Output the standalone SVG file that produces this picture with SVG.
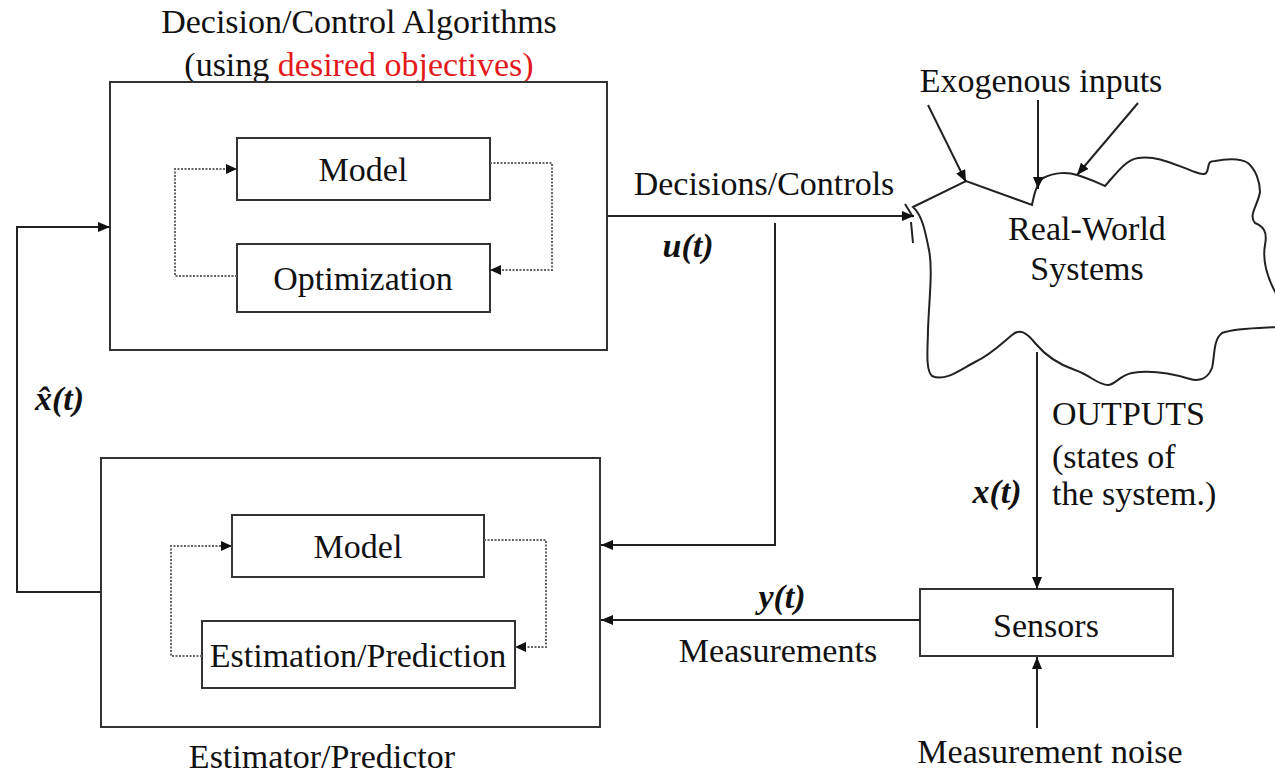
<svg xmlns="http://www.w3.org/2000/svg" width="1275" height="776" viewBox="0 0 1275 776">
<defs>
<style>
text{font-family:"Liberation Serif","Times New Roman",serif;font-size:34px;fill:#111}
.c{text-anchor:middle}
.v{font-style:italic;font-weight:bold}
.box{fill:none;stroke:#333;stroke-width:2}
.ln{fill:none;stroke:#222;stroke-width:2}
.dot{fill:none;stroke:#666;stroke-width:2;stroke-dasharray:2 1.5}
.red{fill:#e3191c}
</style>
<marker id="ah" markerUnits="userSpaceOnUse" markerWidth="12" markerHeight="10" refX="12" refY="5" orient="auto">
<path d="M0,0 L12,5 L0,10 z" fill="#111"/>
</marker>
<marker id="ahs" markerUnits="userSpaceOnUse" markerWidth="11" markerHeight="10" refX="11" refY="5" orient="auto">
<path d="M0,0 L11,5 L0,10 z" fill="#111"/>
</marker>
</defs>
<rect width="1275" height="776" fill="#fff"/>

<g id="decision-control">
<text class="c" x="359" y="33">Decision/Control Algorithms</text>
<text class="c" x="359" y="76">(using <tspan class="red">desired objectives)</tspan></text>
<rect class="box" x="110" y="82" width="497" height="268"/>
</g>
<g id="model-top">
<rect class="box" x="237" y="138" width="253" height="62"/>
<text class="c" x="363" y="181">Model</text>
</g>
<g id="optimization">
<rect class="box" x="237" y="244" width="253" height="68"/>
<text class="c" x="363" y="290">Optimization</text>
</g>

<g id="estimator">
<rect class="box" x="101" y="458" width="499" height="269"/>
<text class="c" x="322" y="768">Estimator/Predictor</text>
</g>
<g id="model-bottom">
<rect class="box" x="232" y="515" width="252" height="62"/>
<text class="c" x="358" y="558">Model</text>
</g>
<g id="estimation-prediction">
<rect class="box" x="202" y="621" width="313" height="67"/>
<text class="c" x="358" y="667">Estimation/Prediction</text>
</g>

<g id="real-world">
<path class="ln" d="M913,207 L966,181 L1032,205 C1034,195 1036,185 1043,178 C1055,172 1068,172 1077,175 C1088,178 1098,183 1105,186 C1115,175 1125,160 1138,158 C1158,155 1175,165 1195,172 C1205,176 1207,174 1208,168 C1209,162 1210,161 1215,161 C1225,159 1240,158 1248,163 C1256,170 1260,182 1260,192 C1258,205 1248,215 1255,223 C1262,226 1268,230 1265,245 C1262,262 1268,280 1278,297 L1278,327 C1258,328 1235,328 1222,333 C1213,340 1215,355 1212,368 C1208,378 1200,382 1190,379 C1170,373 1150,370 1132,373 C1120,375 1115,385 1108,385 C1098,385 1090,375 1075,370 C1060,365 1045,355 1035,343 C1027,333 1020,328 1012,335 C1000,345 990,355 975,362 C960,370 945,382 932,376 C925,370 928,345 928,330 C929,300 933,270 929,250 C925,230 922,215 913,207 Z"/>
<path class="ln" d="M905,204 L913,217 M911,222 L913,243"/>
<text class="c" x="1087" y="240">Real-World</text>
<text class="c" x="1087" y="280">Systems</text>
<text class="c" x="1041" y="92">Exogenous inputs</text>
</g>

<g id="sensors">
<rect class="box" x="920" y="589" width="253" height="67"/>
<text class="c" x="1046" y="637">Sensors</text>
<text class="c" x="1050" y="763">Measurement noise</text>
</g>

<g id="connectors">
<path class="dot" d="M237,276 L175,276 L175,169 L237,169" marker-end="url(#ahs)"/>
<path class="dot" d="M490,163 L552,163 L552,270 L490,270" marker-end="url(#ahs)"/>
<path class="dot" d="M202,656 L171,656 L171,546 L232,546" marker-end="url(#ahs)"/>
<path class="dot" d="M484,540 L546,540 L546,647 L515,647" marker-end="url(#ahs)"/>
<path class="ln" d="M101,592 L17,592 L17,227 L110,227" marker-end="url(#ah)"/>
<path class="ln" d="M607,216 L914,216" marker-end="url(#ah)"/>
<path class="ln" d="M775,223 L775,545 L601,545" marker-end="url(#ah)"/>
<path class="ln" d="M920,620 L601,620" marker-end="url(#ah)"/>
<path class="ln" d="M1037,352 L1037,589" marker-end="url(#ah)"/>
<path class="ln" d="M1037,728 L1037,657" marker-end="url(#ah)"/>
<path class="ln" d="M928,105 L966,182" marker-end="url(#ah)"/>
<path class="ln" d="M1038,100 L1038,189" marker-end="url(#ah)"/>
<path class="ln" d="M1138,103 L1077,175" marker-end="url(#ah)"/>
<text class="c" x="764" y="195">Decisions/Controls</text>
<text class="c v" x="688" y="257">u(t)</text>
<text class="c v" x="782" y="608">y(t)</text>
<text class="c" x="778" y="662">Measurements</text>
<text class="c v" x="997" y="503">x(t)</text>
<text x="1052" y="425">OUTPUTS</text>
<text x="1052" y="468">(states of</text>
<text x="1052" y="505">the system.)</text>
<text class="v" x="35" y="410">x̂(t)</text>
</g>
</svg>
